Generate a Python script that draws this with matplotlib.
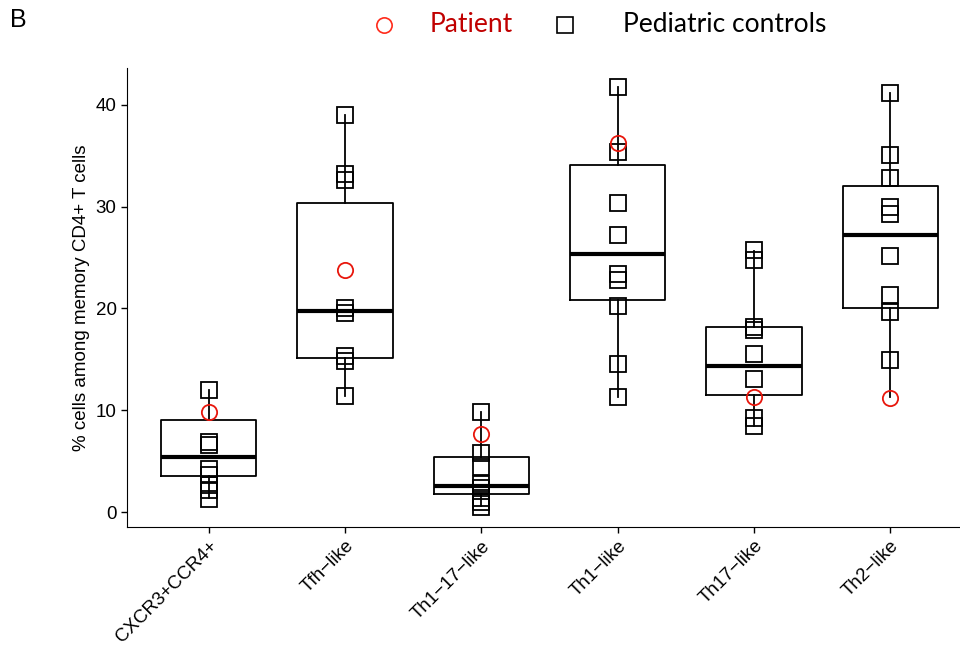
import matplotlib
matplotlib.use("Agg")
import matplotlib.pyplot as plt
from matplotlib.lines import Line2D

categories = ["CXCR3+CCR4+", "Tfh\u2212like", "Th1\u221217\u2212like", "Th1\u2212like", "Th17\u2212like", "Th2\u2212like"]

# controls (squares)
controls = [
    [12.0, 6.9, 6.6, 4.2, 3.6, 2.7, 2.2, 1.3],
    [39.0, 33.2, 32.6, 20.0, 19.5, 15.3, 14.8, 11.4],
    [9.8, 5.8, 4.4, 2.8, 2.4, 1.4, 1.0, 0.5],
    [41.7, 35.4, 30.3, 27.2, 23.4, 22.8, 20.2, 14.5, 11.3],
    [25.7, 24.7, 18.2, 17.9, 15.5, 13.1, 9.2, 8.4],
    [41.1, 35.1, 32.8, 30.0, 29.3, 25.1, 21.3, 19.6, 14.9],
]
patient = [9.8, 23.8, 7.7, 36.2, 11.3, 11.2]

# box summaries
whislo = [1.4, 11.4, 0.6, 11.3, 8.4, 11.3]
q1 = [3.5, 15.1, 1.8, 20.8, 11.5, 20.0]
med = [5.4, 19.75, 2.6, 25.3, 14.35, 27.2]
q3 = [9.0, 30.3, 5.4, 34.1, 18.15, 32.0]
whishi = [12.0, 39.0, 9.8, 41.7, 25.6, 41.1]

legend_labels = ["Patient", "Pediatric controls"]

fig = plt.figure(figsize=(9.6, 6.45), dpi=100)
ax = fig.add_axes([127 / 960, 1 - 527 / 645, (972 - 127) / 960, (527 - 68) / 645])

stats = []
for i in range(len(categories)):
    stats.append(dict(whislo=whislo[i], q1=q1[i], med=med[i], q3=q3[i], whishi=whishi[i], fliers=[]))

pos = list(range(1, len(categories) + 1))
ax.bxp(stats, positions=pos, widths=0.7, showcaps=False, showfliers=False,
       boxprops=dict(color="black", lw=1.3),
       whiskerprops=dict(color="black", lw=1.3),
       medianprops=dict(color="black", lw=3))

for i, vals in enumerate(controls):
    ax.plot([pos[i]] * len(vals), vals, "s", ms=11, mfc="none", mec="black", mew=1.3, zorder=3)
ax.plot(pos, patient, "o", ms=11, mfc="none", mec="#e8160c", mew=1.3, zorder=4)

ax.set_xlim(0.4, 6.6)
ax.set_ylim(-1.47, 43.6)
ax.set_yticks([0, 10, 20, 30, 40])
ax.set_xticks(pos)
ax.set_xticklabels(categories, rotation=45, ha="right", rotation_mode="anchor",
                   fontsize=13.5, family="Liberation Sans")
for lab in ax.get_yticklabels():
    lab.set_fontsize(13.5)
    lab.set_family("Liberation Sans")
ax.tick_params(length=4, width=1, color="black")
ax.spines["top"].set_visible(False)
ax.spines["right"].set_visible(False)
ax.set_ylabel("% cells among memory CD4+ T cells", fontsize=13.5, family="Liberation Sans")

fig.text(10 / 960, 1 - 20 / 645, "B", fontsize=18, family="Liberation Sans", va="center")

# legend across the top
ly = 1 - 25 / 645
fig.add_artist(Line2D([384 / 960], [ly], transform=fig.transFigure, marker="o", ls="none",
                      ms=11, mfc="none", mec="#ff2a1a", mew=1.2))
fig.add_artist(Line2D([565 / 960], [ly], transform=fig.transFigure, marker="s", ls="none",
                      ms=11, mfc="none", mec="black", mew=1.2))
fig.text(430 / 960, ly, legend_labels[0], color="#c00000", fontsize=19, family="Lato", va="center")
fig.text(623 / 960, ly, legend_labels[1], color="black", fontsize=19, family="Lato", va="center")

fig.savefig("out.png", dpi=100)
